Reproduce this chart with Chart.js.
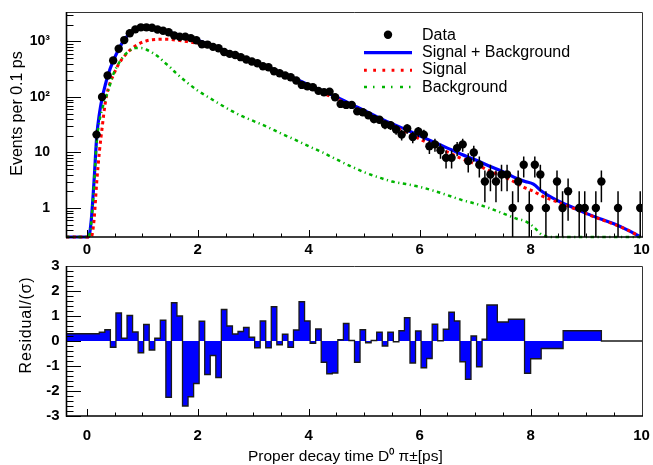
<!DOCTYPE html>
<html>
<head>
<meta charset="utf-8">
<script src="https://cdn.jsdelivr.net/npm/chart.js@4.4.0/dist/chart.umd.min.js"></script>
<style>
  body { margin: 0; background: #fff; width: 653px; height: 465px; overflow: hidden; position: relative; }
  canvas { position: absolute; left: 0; }
  #top { top: 0; }
  #bottom { top: 250px; }
</style>
</head>
<body>
<canvas id="top" width="653" height="262"></canvas>
<canvas id="bottom" width="653" height="215"></canvas>
<script>
// Axis ranges
const X_MIN = -0.375, X_MAX = 10.025;
const Y_MIN = 0.3, Y_MAX = 3400;
const RES_MIN = -3, RES_MAX = 3;

const X_TICKS = [0, 2, 4, 6, 8, 10];
const Y_TICKS = [1, 10, 100, 1000];
const Y_TICK_LABELS = ['1', '10', '10\u00b2', '10\u00b3'];
const RES_TICKS = [-3, -2, -1, 0, 1, 2, 3];

// Data: events per 0.1 ps bin (bin centres)
const BIN_CENTERS = [
  0.175, 0.275, 0.375, 0.475, 0.575, 0.675, 0.775, 0.875, 0.975,
  1.075, 1.175, 1.275, 1.375, 1.475, 1.575, 1.675, 1.775, 1.875, 1.975,
  2.075, 2.175, 2.275, 2.375, 2.475, 2.575, 2.675, 2.775, 2.875, 2.975,
  3.075, 3.175, 3.275, 3.375, 3.475, 3.575, 3.675, 3.775, 3.875, 3.975,
  4.075, 4.175, 4.275, 4.375, 4.475, 4.575, 4.675, 4.775, 4.875, 4.975,
  5.075, 5.175, 5.275, 5.375, 5.475, 5.575, 5.675, 5.775, 5.875, 5.975,
  6.075, 6.175, 6.275, 6.375, 6.475, 6.575, 6.675, 6.775, 6.875, 6.975,
  7.075, 7.175, 7.275, 7.375, 7.475, 7.575, 7.675, 7.775, 7.875, 7.975,
  8.075, 8.175, 8.275, 8.375, 8.475, 8.575, 8.675, 8.775, 8.875, 8.975,
  9.075, 9.175, 9.275, 9.375, 9.475, 9.575, 9.675, 9.775, 9.875, 9.975
];
const COUNTS = [
  21, 100, 244, 456, 742, 1060, 1410, 1655, 1800,
  1800, 1770, 1640, 1560, 1470, 1280, 1220, 1225, 1150, 1050,
  890, 880, 800, 755, 645, 598, 572, 522, 474, 436,
  406, 358, 344, 291, 268, 244, 227, 198, 165, 156,
  150, 129, 122, 125, 99, 75, 72, 72, 55, 53,
  47, 40, 39, 32, 31, 26, 21, 27, 19, 24,
  21, 13, 14, 11, 8, 8, 12, 14, 7, 10,
  6, 3, 4, 3, 4, 4, 1, 3, 6, 1,
  6, 4, 1, 0, 3, 1, 2, 0, 1, 1,
  0, 1, 3, 0, 0, 1, 0, 0, 0, 1
];

// Fit curves, sampled along the time axis
const CURVE_T = [
  -0.375, 0.0, 0.03, 0.08, 0.13, 0.18, 0.23, 0.28, 0.33, 0.38, 0.48, 0.58, 0.68, 0.78, 0.88, 0.98,
  1.08, 1.18, 1.3, 1.4, 1.5, 1.6, 1.8, 2.0, 2.2, 2.4, 2.6, 2.8, 3.0, 3.25, 3.5, 3.75,
  4.0, 4.25, 4.5, 4.75, 5.0, 5.25, 5.5, 5.75, 6.0, 6.25, 6.5, 6.75, 7.0, 7.25, 7.5, 7.75,
  7.9, 8.05, 8.2, 8.4, 8.6, 8.8, 9.0, 9.25, 9.5, 9.75, 9.98
];
const SIG_BKG = [
  0.3, 0.3, 0.3, 0.6, 3, 20, 52, 100, 160, 245, 455, 740, 1100, 1400, 1630, 1760,
  1780, 1740, 1650, 1560, 1460, 1360, 1200, 1050, 890, 750, 620, 525, 440, 345, 275, 215,
  165, 128, 100, 75, 57, 43, 33, 26, 20, 15.5, 12, 9.3, 7.4, 5.7, 4.5, 3.4,
  3.0, 2.7, 2.0, 1.5, 1.2, 0.98, 0.8, 0.64, 0.52, 0.4, 0.3
];
const SIGNAL = [
  0.3, 0.3, 0.3, 0.3, 0.6, 3, 11, 30, 75, 135, 250, 400, 550, 700, 840, 950,
  1030, 1075, 1095, 1100, 1090, 1065, 1000, 915, 790, 680, 565, 480, 405, 320, 255, 200,
  152, 118, 92, 70, 53, 40, 30, 23.5, 17.5, 13.3, 10.2, 7.8, 6.2, 4.7, 3.7, 2.8,
  2.3, 2.0, 1.65, 1.38, 1.15, 0.96, 0.79, 0.63, 0.51, 0.4, 0.3
];
const BACKGROUND = [
  0.3, 0.3, 0.3, 0.55, 2.6, 16, 38, 62, 90, 125, 260, 410, 570, 690, 760, 760,
  710, 630, 520, 420, 345, 275, 185, 130, 98, 74, 57, 45, 37, 29, 22, 17,
  13, 10, 7.5, 5.7, 4.4, 3.6, 3.0, 2.7, 2.4, 2.05, 1.7, 1.4, 1.2, 1.0, 0.8, 0.64,
  0.58, 0.46, 0.33, 0.3, 0.3, 0.3, 0.3, 0.3, 0.3, 0.3, 0.3
];

// Residual histogram: bin edges and residual/sigma per bin
const RES_EDGES = [
  -0.375,
  0.225, 0.325, 0.425, 0.525, 0.625, 0.725, 0.825, 0.925, 1.025, 1.125,
  1.225, 1.325, 1.425, 1.525, 1.625, 1.725, 1.825, 1.925, 2.025, 2.125,
  2.225, 2.325, 2.425, 2.525, 2.625, 2.725, 2.825, 2.925, 3.025, 3.125,
  3.225, 3.325, 3.425, 3.525, 3.625, 3.725, 3.825, 3.925, 4.025, 4.125,
  4.225, 4.325, 4.425, 4.525, 4.625, 4.725, 4.825, 4.925, 5.025, 5.125,
  5.225, 5.325, 5.425, 5.525, 5.625, 5.725, 5.825, 5.925, 6.025, 6.125,
  6.225, 6.325, 6.425, 6.525, 6.625, 6.725, 6.825, 6.925, 7.025, 7.125,
  7.21, 7.40, 7.60, 7.89, 8.0, 8.19, 8.585, 9.275, 10.025
];
const RESIDUALS = [
  0.29,
  0.35, 0.45, -0.25, 1.12, 0.11, 1.02, 0.36, -0.47, 0.66, -0.36,
  0.11, 0.83, -2.25, 1.53, 1.0, -2.6, -2.23, -1.7, 0.79, -1.34,
  -0.58, -1.46, 1.26, 0.6, 0.28, 0.38, 0.54, 0.15, -0.27, 0.8,
  -0.27, 1.37, -0.15, 0.27, -0.25, 0.44, 1.57, 0.8, -0.09, 0.48,
  -0.85, -1.31, -1.28, 0.05, 0.7, 0.02, -0.85, 0.45, -0.07, 0.02,
  0.35, -0.2, 0.35, -0.03, 0.41, 0.93, -0.88, 0.4, -1.07, -0.7,
  0.67, 0.01, 0.47, 1.15, 0.8, -0.83, -1.53, 0.2, -1.03, 0.07,
  1.44, 0.76, 0.87, -1.29, -0.71, -0.3, 0.41, 0
];

const FONT = '"Liberation Sans", Arial, Helvetica, sans-serif';
const BLUE = '#0000ff', RED = '#ff0000', GREEN = '#00b400';

// minor tick positions
const xMinor = [];
for (let k = 1; k < 20; k++) if (k % 4 !== 0) xMinor.push(k / 2);
const logMinor = [];
[0.1, 1, 10, 100, 1000].forEach(d => {
  for (let m = 2; m <= 9; m++) { const v = m * d; if (v >= Y_MIN && v <= Y_MAX) logMinor.push(v); }
});
const resMinor = [];
for (let k = -15; k <= 15; k++) if (k % 5 !== 0) resMinor.push(k / 5);

// ROOT-like frame with inward tick marks
const rootFrame = {
  id: 'rootFrame',
  afterDraw(chart, args, o) {
    const { ctx, chartArea: a } = chart;
    const x = chart.scales.x, y = chart.scales.y;
    ctx.save();
    ctx.strokeStyle = '#000';
    ctx.lineWidth = 1;
    ctx.beginPath();
    o.xMajor.forEach(v => { const p = Math.round(x.getPixelForValue(v)) + 0.5; ctx.moveTo(p, a.bottom); ctx.lineTo(p, a.bottom - 7); });
    o.xMinor.forEach(v => { const p = Math.round(x.getPixelForValue(v)) + 0.5; ctx.moveTo(p, a.bottom); ctx.lineTo(p, a.bottom - 3.5); });
    o.yMajor.forEach(v => { const p = Math.round(y.getPixelForValue(v)) + 0.5; ctx.moveTo(a.left, p); ctx.lineTo(a.left + 15, p); });
    o.yMinor.forEach(v => { const p = Math.round(y.getPixelForValue(v)) + 0.5; ctx.moveTo(a.left, p); ctx.lineTo(a.left + 7.5, p); });
    ctx.stroke();
    // top and right frame
    ctx.strokeStyle = '#333';
    ctx.beginPath();
    ctx.moveTo(a.left, a.top + 0.5); ctx.lineTo(a.right - 0.5, a.top + 0.5); ctx.lineTo(a.right - 0.5, a.bottom);
    ctx.stroke();
    // axis lines
    ctx.strokeStyle = '#000';
    ctx.lineWidth = 1.6;
    ctx.beginPath();
    ctx.moveTo(a.left + 0.5, a.top); ctx.lineTo(a.left + 0.5, a.bottom); ctx.lineTo(a.right, a.bottom);
    ctx.stroke();
    ctx.restore();
  }
};

// free text (axis titles)
const freeText = {
  id: 'freeText',
  afterDraw(chart, args, o) {
    const ctx = chart.ctx;
    (o.items || []).forEach(t => {
      ctx.save();
      ctx.fillStyle = '#000';
      ctx.font = t.size + 'px ' + FONT;
      if (t.spacing) ctx.letterSpacing = t.spacing + 'px';
      ctx.textBaseline = 'alphabetic';
      ctx.translate(t.x, t.y);
      if (t.rotate) ctx.rotate(-Math.PI / 2);
      ctx.textAlign = t.align || 'center';
      ctx.fillText(t.text, 0, 0);
      ctx.restore();
    });
  }
};

// Poisson error bars for the data points
const errorBars = {
  id: 'errorBars',
  afterDatasetsDraw(chart) {
    const ds = chart.data.datasets[0];
    if (!ds.errors) return;
    const { ctx, chartArea: a } = chart;
    const y = chart.scales.y;
    const meta = chart.getDatasetMeta(0);
    ctx.save();
    ctx.beginPath(); ctx.rect(a.left, a.top, a.right - a.left, a.bottom - a.top); ctx.clip();
    ctx.strokeStyle = '#000';
    ctx.lineWidth = 1.5;
    ctx.beginPath();
    meta.data.forEach((pt, i) => {
      const v = ds.data[i].y, e = ds.errors[i];
      const hi = y.getPixelForValue(v + e);
      const lo = v - e > Y_MIN ? y.getPixelForValue(v - e) : a.bottom;
      ctx.moveTo(pt.x, lo); ctx.lineTo(pt.x, hi);
    });
    ctx.stroke();
    ctx.restore();
  }
};

// legend in the upper right
const rootLegend = {
  id: 'rootLegend',
  afterDraw(chart) {
    const ctx = chart.ctx;
    ctx.save();
    ctx.fillStyle = '#000';
    ctx.beginPath(); ctx.arc(388, 34.7, 4.2, 0, Math.PI * 2); ctx.fill();
    const line = (yy, color, w, dash) => {
      ctx.strokeStyle = color; ctx.lineWidth = w; ctx.setLineDash(dash); ctx.lineCap = 'butt';
      ctx.beginPath(); ctx.moveTo(364, yy); ctx.lineTo(412, yy); ctx.stroke();
    };
    line(52.7, BLUE, 3.2, []);
    line(70.3, RED, 3, [2.8, 6.4]);
    line(87, GREEN, 2.5, [3, 6, 1.5, 7.5]);
    ctx.setLineDash([]);
    ctx.font = '16px ' + FONT;
    ctx.textAlign = 'left';
    ctx.textBaseline = 'alphabetic';
    ctx.fillText('Data', 422, 39.5);
    ctx.fillText('Signal + Background', 422, 57);
    ctx.fillText('Signal', 422, 74.3);
    ctx.fillText('Background', 422, 91.7);
    ctx.restore();
  }
};

const dataPoints = [], dataErrors = [];
BIN_CENTERS.forEach((t, i) => {
  if (COUNTS[i] > 0) { dataPoints.push({ x: t, y: COUNTS[i] }); dataErrors.push(Math.sqrt(COUNTS[i])); }
});
const curve = vals => CURVE_T.map((t, i) => ({ x: t, y: vals[i] }));

const tickFont = size => ({ family: FONT, size: size, weight: 'bold' });
// fixed axis box sizes, no extra label padding
const fixBox = (w, h) => s => {
  if (w !== null) s.width = w;
  if (h !== null) s.height = h;
  s.paddingLeft = s.paddingRight = s.paddingTop = s.paddingBottom = 0;
};

new Chart(document.getElementById('top'), {
  type: 'scatter',
  data: {
    datasets: [
      { label: 'Data', data: dataPoints, errors: dataErrors, showLine: false,
        pointRadius: 4.2, pointBackgroundColor: '#000', pointBorderColor: '#000', pointBorderWidth: 0, order: 0 },
      { label: 'Background', data: curve(BACKGROUND), showLine: true, pointRadius: 0,
        borderColor: GREEN, borderWidth: 2.5, borderDash: [3.5, 3.5, 1.2, 3.5], borderCapStyle: 'butt',
        cubicInterpolationMode: 'monotone', clip: 4, order: 1 },
      { label: 'Signal', data: curve(SIGNAL), showLine: true, pointRadius: 0,
        borderColor: RED, borderWidth: 3, borderDash: [3.2, 3.4], borderCapStyle: 'butt',
        cubicInterpolationMode: 'monotone', clip: 4, order: 2 },
      { label: 'Signal + Background', data: curve(SIG_BKG), showLine: true, pointRadius: 0,
        borderColor: BLUE, borderWidth: 3.2, cubicInterpolationMode: 'monotone', clip: 4, order: 3 }
    ]
  },
  options: {
    responsive: false, animation: false, devicePixelRatio: 1, events: [],
    layout: { padding: { top: 12, right: 10, left: 0, bottom: 0 } },
    plugins: {
      legend: { display: false }, tooltip: { enabled: false },
      rootFrame: { xMajor: X_TICKS, xMinor: xMinor, yMajor: Y_TICKS, yMinor: logMinor },
      freeText: { items: [{ text: 'Events per 0.1 ps', x: 22, y: 113.5, rotate: true, size: 16 }] }
    },
    scales: {
      x: {
        type: 'linear', min: X_MIN, max: X_MAX,
        afterFit: fixBox(null, 25),
        afterBuildTicks: s => { s.ticks = X_TICKS.map(v => ({ value: v })); },
        ticks: { font: tickFont(15), color: '#000', padding: 4, maxRotation: 0, autoSkip: false },
        grid: { display: false, drawTicks: false }, border: { display: false }
      },
      y: {
        type: 'logarithmic', min: Y_MIN, max: Y_MAX,
        afterFit: fixBox(66, null),
        afterBuildTicks: s => { s.ticks = Y_TICKS.map(v => ({ value: v })); },
        ticks: { font: tickFont(14), color: '#000', padding: 16, autoSkip: false,
          callback: v => Y_TICK_LABELS[Y_TICKS.indexOf(v)] },
        grid: { display: false, drawTicks: false }, border: { display: false }
      }
    }
  },
  plugins: [errorBars, rootFrame, freeText, rootLegend]
});

const resPoints = RESIDUALS.map((v, i) => ({ x: RES_EDGES[i], y: v }));
resPoints.push({ x: RES_EDGES[RES_EDGES.length - 1], y: RESIDUALS[RESIDUALS.length - 1] });

new Chart(document.getElementById('bottom'), {
  type: 'scatter',
  data: {
    datasets: [
      { label: 'Residual', data: resPoints, showLine: true, stepped: 'before', pointRadius: 0,
        borderColor: '#1a1a1a', borderWidth: 1.3, fill: 'origin', backgroundColor: BLUE }
    ]
  },
  options: {
    responsive: false, animation: false, devicePixelRatio: 1, events: [],
    layout: { padding: { top: 16, right: 10, left: 0, bottom: 0 } },
    plugins: {
      legend: { display: false }, tooltip: { enabled: false },
      rootFrame: { xMajor: X_TICKS, xMinor: xMinor, yMajor: RES_TICKS, yMinor: resMinor },
      freeText: { items: [
        { text: 'Residual/(\u03c3)', x: 31, y: 75, rotate: true, size: 16, spacing: 0.8 },
        { text: 'Proper decay time D\u2070 \u03c0\u00b1[ps]', x: 248, y: 210.5, align: 'left', size: 15.5 }
      ] }
    },
    scales: {
      x: {
        type: 'linear', min: X_MIN, max: X_MAX,
        afterFit: fixBox(null, 49),
        afterBuildTicks: s => { s.ticks = X_TICKS.map(v => ({ value: v })); },
        ticks: { font: tickFont(15), color: '#000', padding: 11, maxRotation: 0, autoSkip: false },
        grid: { display: false, drawTicks: false }, border: { display: false }
      },
      y: {
        type: 'linear', min: RES_MIN, max: RES_MAX,
        afterFit: fixBox(66, null),
        afterBuildTicks: s => { s.ticks = RES_TICKS.map(v => ({ value: v })); },
        ticks: { font: tickFont(15), color: '#000', padding: 6.5, autoSkip: false },
        grid: { display: false, drawTicks: false }, border: { display: false }
      }
    }
  },
  plugins: [rootFrame, freeText]
});
</script>
</body>
</html>
